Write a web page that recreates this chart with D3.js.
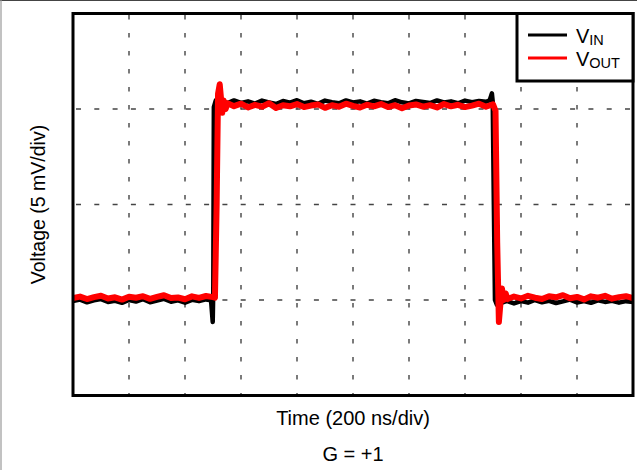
<!DOCTYPE html>
<html><head><meta charset="utf-8">
<script src="https://cdn.jsdelivr.net/npm/d3@7"></script>
<style>html,body{margin:0;padding:0;background:#fff;}svg{display:block;}</style>
</head><body>
<svg id="chart" width="637" height="470"></svg>
<script>
// Time in ns (200 ns/div), voltage in mV (5 mV/div)
const xTicks = [0, 200, 400, 600, 800, 1000, 1200, 1400, 1600, 1800, 2000];
const yTicks = [-5, 0, 5, 10, 15];
const seriesNames = ["VIN", "VOUT"];

const vinPoints = [
  [0,-0.05],[25,0.02],[50,-0.12],[75,-0.02],[100,0.05],[125,-0.10],[150,-0.04],[175,-0.15],
  [200,0.00],[225,-0.08],[250,0.04],[275,-0.12],[300,-0.03],[325,0.06],[350,-0.09],[375,-0.02],
  [400,-0.14],[425,0.01],[450,-0.06],[475,0.03],[493,-0.02],[499,-1.15],[501,0.5],[503,10.1],
  [510,10.45],[520,10.28],[535,10.42],[550,10.30],[575,10.45],[600,10.32],[625,10.40],[650,10.28],
  [675,10.44],[700,10.35],[725,10.26],[750,10.42],[775,10.33],[800,10.46],[825,10.30],[850,10.38],
  [875,10.27],[900,10.44],[925,10.36],[950,10.30],[975,10.45],[1000,10.34],[1025,10.40],[1050,10.28],
  [1075,10.43],[1100,10.36],[1125,10.30],[1150,10.46],[1175,10.35],[1200,10.29],[1225,10.42],
  [1250,10.37],[1275,10.31],[1300,10.45],[1325,10.34],[1350,10.40],[1375,10.30],[1400,10.44],
  [1425,10.36],[1450,10.42],[1475,10.38],[1488,10.45],[1496,10.82],[1499,10.4],[1503,5.0],
  [1507,0.0],[1514,-0.25],[1520,0.0],[1530,-0.15],[1550,-0.05],[1575,-0.18],[1600,-0.06],
  [1625,-0.14],[1650,0.00],[1675,-0.12],[1700,-0.04],[1725,-0.16],[1750,-0.07],[1775,0.02],
  [1800,-0.13],[1825,-0.05],[1850,-0.15],[1875,-0.02],[1900,-0.10],[1925,-0.04],[1950,-0.14],
  [1975,-0.06],[2000,-0.10]
];

const voutPoints = [
  [0,0.10],[25,0.18],[50,0.05],[75,0.15],[100,0.22],[125,0.08],[150,0.14],[175,0.02],
  [200,0.17],[225,0.12],[250,0.20],[275,0.06],[300,0.16],[325,0.25],[350,0.10],[375,0.13],
  [400,0.04],[425,0.19],[450,0.11],[475,0.21],[500,0.15],[507,0.12],[513,5.0],[518,10.8],
  [524,11.30],[529,10.5],[533,9.8],[538,10.45],[545,10.0],[552,10.3],[575,10.15],[600,10.28],
  [625,10.08],[650,10.22],[675,10.12],[700,10.30],[725,10.05],[750,10.20],[775,10.14],[800,10.26],
  [825,10.10],[850,10.18],[875,10.24],[900,10.06],[925,10.20],[950,10.12],[975,10.28],[1000,10.16],
  [1025,10.08],[1050,10.22],[1075,10.14],[1100,10.26],[1125,10.10],[1150,10.20],[1175,10.04],
  [1200,10.18],[1225,10.24],[1250,10.12],[1275,10.20],[1300,10.08],[1325,10.26],[1350,10.14],
  [1375,10.22],[1400,10.10],[1425,10.18],[1450,10.28],[1475,10.12],[1500,10.25],[1509,9.9],
  [1515,3.0],[1521,-1.15],[1527,-0.1],[1532,0.6],[1538,0.0],[1545,0.35],[1552,0.05],[1575,0.18],
  [1600,0.08],[1625,0.22],[1650,0.12],[1675,0.05],[1700,0.20],[1725,0.14],[1750,0.25],[1775,0.09],
  [1800,0.16],[1825,0.03],[1850,0.19],[1875,0.12],[1900,0.22],[1925,0.07],[1950,0.15],[1975,0.20],
  [2000,0.10]
];

const svg = d3.select("#chart");
const L = 73, R = 633, T = 13.5, B = 395.5;
const x = d3.scaleLinear().domain([0, 2000]).range([L, R]);
const y = d3.scaleLinear().domain([-5, 15]).range([B, T]);

// outer frame lines
svg.append("line").attr("x1",0).attr("x2",637).attr("y1",0.5).attr("y2",0.5).attr("stroke","#444").attr("stroke-width",1);
svg.append("line").attr("x1",1).attr("x2",1).attr("y1",0).attr("y2",470).attr("stroke","#999").attr("stroke-width",1.2);

// grid
const grid = svg.append("g");
grid.selectAll("line.v").data(xTicks.slice(1, -1)).join("line")
  .attr("x1", d => x(d)).attr("x2", d => x(d)).attr("y1", T + 1.5).attr("y2", B)
  .attr("stroke", "#444").attr("stroke-width", 1.4).attr("stroke-dasharray", "4.5,13.5");
grid.selectAll("line.h").data(yTicks.slice(1, -1)).join("line")
  .attr("x1", L + 3).attr("x2", R).attr("y1", d => y(d)).attr("y2", d => y(d))
  .attr("stroke", "#444").attr("stroke-width", 1.4).attr("stroke-dasharray", "5,13.3");

// traces
const line = d3.line().x(d => x(d[0])).y(d => y(d[1]));
svg.append("clipPath").attr("id","clip").append("rect")
  .attr("x", L).attr("y", T).attr("width", R - L).attr("height", B - T);
svg.append("path").datum(vinPoints).attr("d", line).attr("fill","none")
  .attr("stroke","#000").attr("stroke-width",4.5).attr("stroke-linejoin","round").attr("clip-path","url(#clip)");
svg.append("path").datum(voutPoints).attr("d", line).attr("fill","none")
  .attr("stroke","#ff0000").attr("stroke-width",6).attr("stroke-linejoin","round").attr("clip-path","url(#clip)");

// plot border
svg.append("rect").attr("x", L).attr("y", T).attr("width", R - L).attr("height", B - T)
  .attr("fill","none").attr("stroke","#000").attr("stroke-width",3);

// legend
const font = "'Liberation Sans', Arial, sans-serif";
const lg = svg.append("g");
lg.append("rect").attr("x", 517).attr("y", T).attr("width", R - 517).attr("height", 81 - T)
  .attr("fill","#fff").attr("stroke","#000").attr("stroke-width",3);
const colors = ["#000", "#ff0000"];
const subs = ["IN", "OUT"];
seriesNames.forEach((n, i) => {
  const yy = 35 + i * 23;
  lg.append("line").attr("x1", 528).attr("x2", 567).attr("y1", yy).attr("y2", yy)
    .attr("stroke", colors[i]).attr("stroke-width", 3);
  const t = lg.append("text").attr("x", 576).attr("y", yy + 8)
    .attr("font-family", font).attr("font-size", 20).attr("fill","#000");
  t.append("tspan").text("V");
  t.append("tspan").attr("font-size", 14.5).attr("dy", 2).text(subs[i]);
});

// axis labels
svg.append("text").attr("x", (L + R) / 2).attr("y", 425).attr("text-anchor","middle")
  .attr("font-family", font).attr("font-size", 20).attr("fill","#000").text("Time (200 ns/div)");
svg.append("text").attr("x", (L + R) / 2).attr("y", 461).attr("text-anchor","middle")
  .attr("font-family", font).attr("font-size", 20).attr("fill","#000").text("G = +1");
svg.append("text").attr("transform", `translate(45,${(T + B) / 2}) rotate(-90)`).attr("text-anchor","middle")
  .attr("font-family", font).attr("font-size", 19.5).attr("fill","#000").text("Voltage (5 mV/div)");
</script>
</body></html>
